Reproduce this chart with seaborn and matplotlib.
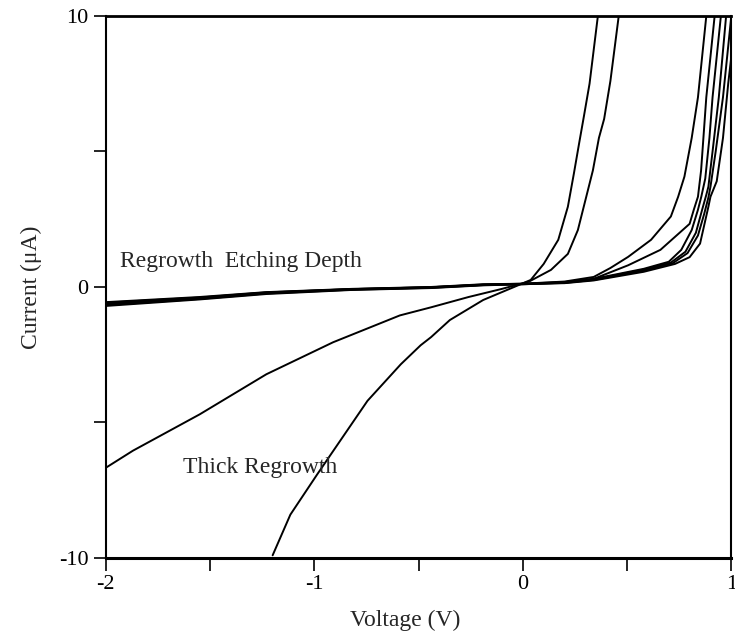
import pandas as pd
import matplotlib
matplotlib.use("Agg")
import matplotlib.pyplot as plt
import seaborn as sns

# I-V curves (voltage in V, current in uA)

# thick regrowth samples
thick1_v = [-2.0, -1.87, -1.55, -1.23, -0.91, -0.59, -0.44, -0.26, -0.1, 0.03, 0.135, 0.216, 0.264, 0.30, 0.336, 0.365, 0.39, 0.42, 0.46]
thick1_i = [-6.67, -6.04, -4.70, -3.22, -2.04, -1.05, -0.75, -0.37, -0.07, 0.2, 0.63, 1.22, 2.1, 3.2, 4.3, 5.5, 6.2, 7.6, 10.0]

thick2_v = [-1.2, -1.115, -0.985, -0.745, -0.585, -0.49, -0.44, -0.35, -0.19, -0.02, 0.038, 0.10, 0.17, 0.216, 0.245, 0.27, 0.293, 0.32, 0.36]
thick2_i = [-9.9, -8.4, -6.9, -4.2, -2.85, -2.15, -1.85, -1.22, -0.48, 0.07, 0.26, 0.85, 1.74, 2.96, 4.19, 5.3, 6.3, 7.5, 10.0]

# regrowth etching depth samples
etch1_v = [-2.0, -1.55, -1.23, -0.82, -0.44, -0.19, 0.0, 0.2, 0.34, 0.42, 0.505, 0.615, 0.71, 0.745, 0.775, 0.81, 0.84, 0.88]
etch1_i = [-0.56, -0.37, -0.19, -0.07, 0.0, 0.1, 0.12, 0.2, 0.37, 0.7, 1.11, 1.74, 2.6, 3.33, 4.07, 5.5, 7.0, 10.0]

etch2_v = [-2.0, -1.55, -1.23, -0.82, -0.44, -0.19, 0.0, 0.2, 0.34, 0.505, 0.66, 0.80, 0.82, 0.84, 0.855, 0.88, 0.92]
etch2_i = [-0.6, -0.4, -0.21, -0.08, -0.01, 0.09, 0.12, 0.18, 0.3, 0.8, 1.37, 2.33, 2.85, 3.33, 4.3, 7.0, 10.0]

etch3_v = [-2.0, -1.55, -1.23, -0.82, -0.44, -0.19, 0.0, 0.2, 0.34, 0.58, 0.70, 0.76, 0.81, 0.84, 0.856, 0.875, 0.895, 0.91, 0.95]
etch3_i = [-0.63, -0.42, -0.22, -0.09, -0.02, 0.08, 0.11, 0.17, 0.3, 0.67, 0.93, 1.37, 2.1, 2.85, 3.33, 4.0, 5.5, 7.0, 10.0]

etch4_v = [-2.0, -1.55, -1.23, -0.82, -0.44, -0.19, 0.0, 0.2, 0.34, 0.58, 0.71, 0.78, 0.83, 0.86, 0.88, 0.89, 0.91, 0.94, 0.975]
etch4_i = [-0.67, -0.44, -0.24, -0.1, -0.03, 0.07, 0.1, 0.16, 0.28, 0.64, 0.9, 1.3, 2.0, 2.85, 3.4, 3.7, 5.0, 7.0, 10.0]

etch5_v = [-2.0, -1.55, -1.23, -0.82, -0.44, -0.19, 0.0, 0.2, 0.34, 0.58, 0.72, 0.79, 0.84, 0.87, 0.89, 0.90, 0.925, 0.96, 1.0]
etch5_i = [-0.7, -0.46, -0.26, -0.11, -0.04, 0.06, 0.1, 0.15, 0.26, 0.6, 0.88, 1.25, 1.9, 2.7, 3.3, 3.7, 5.0, 7.0, 10.0]

etch6_v = [-2.0, -1.55, -1.23, -0.82, -0.44, -0.19, 0.0, 0.2, 0.34, 0.58, 0.73, 0.80, 0.85, 0.89, 0.90, 0.93, 0.96, 0.985, 1.0]
etch6_i = [-0.58, -0.39, -0.2, -0.08, -0.01, 0.08, 0.11, 0.14, 0.24, 0.56, 0.85, 1.1, 1.6, 2.96, 3.33, 3.9, 5.5, 7.5, 8.5]

curves = {
    "thick1": (thick1_v, thick1_i),
    "thick2": (thick2_v, thick2_i),
    "etch1": (etch1_v, etch1_i),
    "etch2": (etch2_v, etch2_i),
    "etch3": (etch3_v, etch3_i),
    "etch4": (etch4_v, etch4_i),
    "etch5": (etch5_v, etch5_i),
    "etch6": (etch6_v, etch6_i),
}

rows = []
for name, (v, i) in curves.items():
    for k, (vv, ii) in enumerate(zip(v, i)):
        rows.append({"sample": name, "order": k, "V": vv, "I": ii})
df = pd.DataFrame(rows)

sns.set_style("ticks")
plt.rcParams["font.family"] = ["Liberation Serif", "DejaVu Serif"]

fig = plt.figure(figsize=(7.35, 6.37), dpi=100)
ax = fig.add_axes([0.144, 0.124, 0.851, 0.851])

sns.lineplot(data=df, x="V", y="I", units="sample", estimator=None, sort=False,
             color="black", linewidth=1.4, ax=ax)

ax.set_xlim(-2, 1)
ax.set_ylim(-10, 10)
ax.set_xticks([-2, -1.5, -1, -0.5, 0, 0.5, 1])
ax.set_xticklabels(["-2", "", "-1", "", "0", "", "1"])
ax.set_yticks([-10, -5, 0, 5, 10])
ax.set_yticklabels(["-10", "", "0", "", "10"])
ax.tick_params(direction="out", length=9, width=1.2, labelsize=16, colors="black")

for side in ["left", "right", "top", "bottom"]:
    ax.spines[side].set_visible(True)
    ax.spines[side].set_color("black")
    ax.spines[side].set_linewidth(1.5)
ax.spines["bottom"].set_linewidth(2.2)
ax.spines["top"].set_linewidth(2.0)

ax.set_xlabel("Voltage (V)", fontsize=17)
ax.xaxis.set_label_coords(0.478, -0.095)
ax.set_ylabel("Current (\u03bcA)", fontsize=17, labelpad=12)

ax.text(-1.93, 0.93, "Regrowth  Etching Depth", fontsize=17, va="center", ha="left")
ax.text(-1.63, -6.67, "Thick Regrowth", fontsize=17, va="center", ha="left")

fig.savefig("out.png", dpi=100)
